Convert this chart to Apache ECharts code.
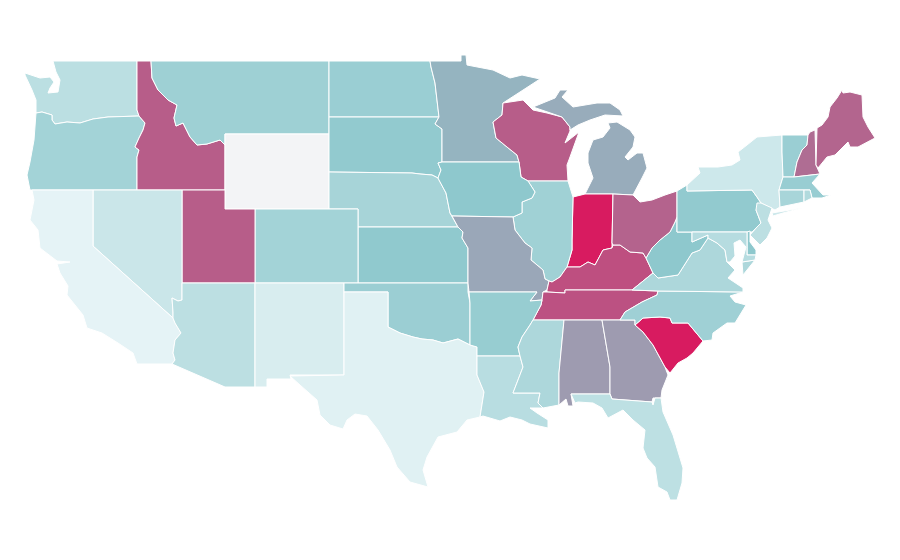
<!DOCTYPE html>
<html>
<head>
<meta charset="utf-8">
<style>html,body{margin:0;padding:0;background:#fff}#main{width:900px;height:560px}</style>
<script src="https://cdn.jsdelivr.net/npm/echarts@6/dist/echarts.min.js"></script>
</head>
<body>
<div id="main"></div>
<script>
var stateNames = ['Wyoming','California','Texas','New Mexico','New York','Nevada','Washington','Arizona','Florida','Louisiana','Mississippi','Virginia','Nebraska','New Jersey','Delaware','Colorado','Oregon','Montana','Illinois','North Carolina','North Dakota','Vermont','Massachusetts','Oklahoma','Arkansas','South Dakota','Kansas','Pennsylvania','Iowa','West Virginia','Minnesota','Michigan','Missouri','Alabama','Georgia','Tennessee','Kentucky','Wisconsin','Idaho','Utah','Ohio','Maine','New Hampshire','Indiana','South Carolina','Connecticut','Rhode Island','Maryland'];
var stateValues = [0,25.3,26.7,29,32,33,37.2,37,36.6,38,41.2,41.2,43,37,50,44,44,45.5,45,45.2,46.6,46.6,47.2,46.4,47.4,48.9,49.5,48.9,50,50,55.7,58,59.4,62.8,62.8,84,84.7,80.6,80.6,80.6,78.8,78.2,76,100,100,42.6,40,38.6];

// equally spaced over 0-100
var colorStops = ['#f3f4f6','#e6f4f6','#8ec8cd','#ad7095','#d81b60'];

// outlines, x,y pairs, | separates the parts of a state
var outlines = {
  'Washington':'53,61 137,61 137,110 139,116 108,117 93,119 80,123 67,122 55,124 52,120 52,115 42,112 36,113 36,100 32,90 25,75 25,73 40,78 50,77 54,82 50,88 48,93 58,92 60,80 56,72',
  'Oregon':'36,113 42,112 52,115 52,120 55,124 67,122 80,123 93,119 108,117 139,116 145,123 143,130 139,138 135,147 139,150 137,157 137,190 30,190 27,175 30,162 34,140',
  'Idaho':'137,61 151,61 152,78 158,90 168,100 177,105 174,118 176,126 183,123 190,137 197,145 207,144 220,140 225,145 225,190 137,190 137,157 139,150 135,147 139,138 143,130 145,123 139,116 137,110',
  'Montana':'151,61 329,61 329,134 225,134 225,145 220,140 207,144 197,145 190,137 183,123 176,126 174,118 177,105 168,100 158,90 152,78',
  'Wyoming':'225,134 329,134 329,209 225,209',
  'North Dakota':'329,61 430,61 431,67 435,83 437,100 439,117 329,117',
  'South Dakota':'329,117 439,117 435,124 442,129 442,162 438,163 441,170 438,178 432,175 420,174 412,173 329,172',
  'Nebraska':'329,172 412,173 420,174 432,175 438,178 439,180 446,193 450,213 458,227 358,227 358,209 329,209',
  'Kansas':'358,227 458,227 463,232 462,238 468,248 468,283 358,283',
  'Colorado':'255,209 358,209 358,283 255,283',
  'Utah':'182,190 225,190 225,209 255,209 255,283 182,283',
  'Nevada':'93,190 182,190 182,300 178,301 172,298 173,312 173,318 93,246',
  'California':'32,190 93,190 93,246 173,318 175,323 181,333 175,340 173,353 175,360 172,364 137,364 133,353 118,343 102,333 87,328 83,315 67,295 68,286 60,273 57,264 70,262 57,261 40,248 38,230 30,220 34,200',
  'Arizona':'182,283 255,283 255,387 225,387 172,364 175,360 173,353 175,340 181,333 175,323 173,318 173,312 172,298 178,301 182,300',
  'New Mexico':'255,283 344,283 344,375 290,375 291,379 267,379 267,387 255,387',
  'Oklahoma':'344,283 468,283 468,292 470,303 470,345 458,339 443,343 433,340 422,339 413,337 400,333 388,327 388,292 344,292',
  'Texas':'344,292 388,292 388,327 400,333 413,337 422,339 433,340 443,343 458,339 470,345 477,347 477,375 484,392 480,417 467,420 457,432 438,437 427,457 423,470 428,487 410,482 397,467 390,450 378,430 367,416 355,414 347,420 343,429 330,425 320,415 317,400 300,385 290,376 290,375 344,375',
  'Minnesota':'430,61 461,61 461,55 466,55 467,65 493,70 510,78 522,75 540,79 520,92 503,103 502,115 493,122 496,138 507,147 517,155 519,162 442,162 442,129 435,124 439,117 437,100 435,83 431,67',
  'Wisconsin':'503,103 523,100 533,110 547,113 562,117 570,127 570,131 565,143 579,132 570,157 567,165 568,181 528,181 521,177 519,162 517,155 507,147 496,138 493,122 502,115',
  'Michigan':'533,107 555,98 560,90 568,90 562,97 573,107 597,103 610,103 620,110 623,116 605,115 590,120 578,125 570,130 570,127 562,117|608,123 617,122 630,130 635,137 633,147 625,157 628,160 637,153 643,153 647,168 642,178 633,195 613,194 585,194 593,178 588,163 588,153 593,140 603,137 610,128',
  'Indiana':'573,197 585,194 613,194 612,243 612,248 603,250 595,265 588,262 580,267 567,267 572,250 572,240',
  'Illinois':'528,181 568,181 573,197 572,240 572,250 567,267 560,277 552,282 549,281 545,279 543,270 531,260 532,248 525,243 515,230 513,217 522,213 522,202 532,198 535,192',
  'Iowa':'442,162 519,162 521,177 528,181 535,192 532,198 522,202 522,213 513,217 452,216 450,213 446,193 439,180 438,178 441,170 438,163',
  'Missouri':'452,216 513,217 515,230 525,243 532,248 531,260 543,270 545,279 549,281 547,290 543,292 542,300 530,301 537,292 469,292 468,283 468,248 462,238 463,232 458,227',
  'Kentucky':'549,281 552,282 560,277 567,267 580,267 588,262 595,265 603,250 612,248 613,245 620,245 630,252 643,253 646,258 653,273 632,290 565,290 565,293 547,292 547,290',
  'Tennessee':'547,292 565,293 565,290 632,290 658,291 657,295 642,302 625,312 620,320 533,320 541,305 542,300 543,292',
  'Arkansas':'469,292 537,292 530,301 542,300 541,305 533,320 530,325 522,337 518,347 520,356 477,356 477,347 470,345 470,303',
  'Louisiana':'477,356 520,356 523,367 513,393 540,393 538,403 543,408 530,408 537,413 548,420 548,428 530,424 522,420 510,417 500,421 483,416 480,417 484,392 477,375',
  'Mississippi':'533,320 564,320 559,373 559,405 543,408 538,403 540,393 513,393 523,367 520,356 518,347 522,337 530,325',
  'Alabama':'564,320 602,320 610,367 610,394 571,394 573,406 568,406 566,399 559,405 559,373',
  'Georgia':'602,320 635,320 635,325 643,332 653,345 665,367 668,375 662,390 661,398 653,398 652,402 612,399 610,394 610,367',
  'Florida':'571,394 610,394 612,399 652,402 653,405 655,398 661,398 663,412 673,435 683,468 682,483 677,500 670,500 667,492 658,487 655,467 647,458 643,448 645,430 633,420 623,410 608,418 602,408 593,403 578,402 575,403',
  'South Carolina':'635,325 643,318 660,317 670,318 672,323 688,323 703,341 693,353 687,358 678,363 670,373 665,367 653,345 643,332',
  'North Carolina':'658,291 743,292 730,296 735,302 746,305 735,323 727,323 713,333 712,340 703,341 688,323 672,323 670,318 660,317 643,318 635,325 635,320 620,320 625,312 642,302 657,295',
  'Virginia':'632,290 653,273 658,278 678,275 692,253 700,250 708,238 717,243 725,250 727,262 735,270 728,278 743,288 743,292 658,291|755,260 743,275 742,262',
  'West Virginia':'646,258 652,248 660,240 670,232 675,222 677,217 677,232 692,232 692,242 708,235 708,238 700,250 692,253 678,275 658,278 653,273',
  'Ohio':'613,194 633,195 640,202 652,200 665,195 677,191 677,217 675,222 670,232 660,240 652,248 646,258 643,253 630,252 620,245 613,245 612,243',
  'Pennsylvania':'677,232 677,191 687,185 687,191 752,190 757,197 761,203 756,210 761,223 752,232 747,232',
  'New York':'687,185 700,173 698,167 718,167 732,165 740,160 738,152 747,145 757,137 782,135 782,152 783,177 779,190 780,207 775,210 761,203 757,197 752,190 687,191|772,213 802,208 783,213 773,216',
  'Vermont':'782,135 808,135 807,145 802,150 797,162 794,177 783,177 782,152',
  'New Hampshire':'808,135 810,132 815,130 816,165 820,174 794,177 797,162 802,150 807,145',
  'Maine':'817,128 822,125 828,117 830,107 837,98 842,90 843,93 850,92 862,95 863,117 868,127 875,138 858,147 850,147 848,142 835,155 827,157 818,168 816,165',
  'Massachusetts':'783,177 794,177 820,174 812,183 823,195 831,195 822,198 812,198 810,190 779,190',
  'Connecticut':'779,190 804,190 804,202 780,207',
  'Rhode Island':'804,190 810,190 812,198 804,202',
  'New Jersey':'757,203 761,203 772,208 768,220 772,228 767,238 760,245 750,235 757,227 761,223 756,210',
  'Delaware':'747,232 750,231 750,242 756,250 756,255 747,255',
  'Maryland':'692,232 747,232 747,255 756,255 755,260 742,262 746,247 740,240 734,243 735,256 730,262 727,262 725,250 717,243 708,238 708,235 692,242'
};

function parseRing(str) {
  var pts = str.split(' ').map(function (p) { return p.split(',').map(Number); });
  pts.push(pts[0]);
  return pts;
}

var usaMap = {
  type: 'FeatureCollection',
  features: Object.keys(outlines).map(function (name) {
    return {
      type: 'Feature',
      properties: { name: name },
      geometry: {
        type: 'MultiPolygon',
        coordinates: outlines[name].split('|').map(function (r) { return [parseRing(r)]; })
      }
    };
  })
};
echarts.registerMap('USA', usaMap);

var dom = document.getElementById('main');
var myChart = echarts.init(dom);

var option = {
  animation: false,
  backgroundColor: '#fff',
  visualMap: {
    show: false,
    min: 0,
    max: 100,
    inRange: { color: colorStops }
  },
  geo: {
    map: 'USA',
    roam: false,
    silent: true,
    projection: {
      project: function (p) { return p; },
      unproject: function (p) { return p; }
    },
    left: 25,
    top: 55,
    width: 850,
    height: 445,
    label: { show: false },
    itemStyle: { borderColor: '#fff', borderWidth: 1, areaColor: '#f3f4f6' }
  },
  series: [
    {
      type: 'map',
      geoIndex: 0,
      data: stateNames.map(function (n, i) { return { name: n, value: stateValues[i] }; })
    }
  ]
};
myChart.setOption(option, true);
</script>
</body>
</html>
